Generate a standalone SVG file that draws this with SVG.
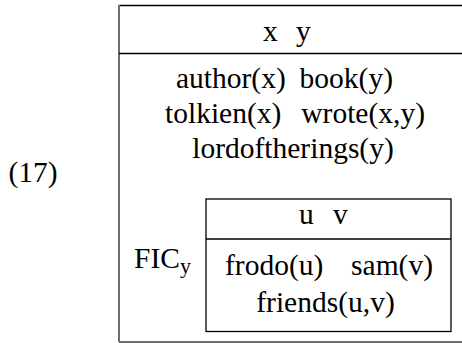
<svg xmlns="http://www.w3.org/2000/svg" width="462" height="343" viewBox="0 0 462 343">
  <style>
    text { font-family: "Liberation Serif", "Times New Roman", serif; font-size: 29.5px; fill: #000; }
    .c { text-anchor: middle; }
    .e { text-anchor: end; }
    .rule { stroke: #000; stroke-width: 1.3; fill: none; }
    .edge { stroke: #6e6e6e; stroke-width: 2; fill: none; }
  </style>

  <!-- example number -->
  <g id="label">
    <text x="33" y="182" class="c">(17)</text>
  </g>

  <!-- outer DRS box -->
  <g id="outer-drs">
    <line class="rule" x1="119" y1="5.5" x2="462" y2="5.5"/>
    <line class="edge" x1="119" y1="5" x2="119" y2="342"/>
    <line class="edge" x1="119" y1="342" x2="462" y2="342"/>
    <line class="rule" x1="119" y1="53.5" x2="462" y2="53.5"/>
    <text x="263" y="41">x</text>
    <text x="296" y="41">y</text>
    <text x="176" y="88">author(x)</text>
    <text x="393" y="88" class="e">book(y)</text>
    <text x="165" y="123">tolkien(x)</text>
    <text x="425" y="123" class="e">wrote(x,y)</text>
    <text x="293" y="158" class="c">lordoftherings(y)</text>
    <text x="134" y="268">FIC<tspan font-size="22" dy="5">y</tspan></text>
  </g>

  <!-- embedded DRS box -->
  <g id="inner-drs">
    <rect class="rule" x="206" y="199" width="245" height="132.5"/>
    <line class="rule" x1="206" y1="239" x2="451" y2="239"/>
    <text x="299" y="224">u</text>
    <text x="333" y="224">v</text>
    <text x="225" y="275">frodo(u)</text>
    <text x="433" y="275" class="e">sam(v)</text>
    <text x="325.5" y="312" class="c">friends(u,v)</text>
  </g>
</svg>
